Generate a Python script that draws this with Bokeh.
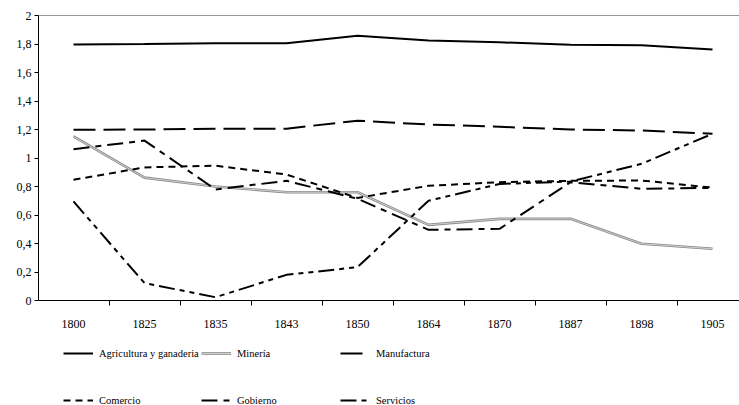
from bokeh.plotting import figure
from bokeh.layouts import column
from bokeh.models import Range1d, FixedTicker, Span, Legend, LegendItem
from bokeh.embed import file_html
from bokeh.resources import INLINE

years = ["1800", "1825", "1835", "1843", "1850", "1864", "1870", "1887", "1898", "1905"]
agricultura = [1.796, 1.80, 1.805, 1.805, 1.858, 1.825, 1.812, 1.794, 1.792, 1.762]
mineria = [1.151, 0.862, 0.800, 0.760, 0.760, 0.531, 0.573, 0.573, 0.398, 0.363]
manufactura = [1.198, 1.200, 1.205, 1.206, 1.262, 1.235, 1.219, 1.200, 1.193, 1.170]
comercio = [0.847, 0.934, 0.946, 0.884, 0.720, 0.805, 0.830, 0.840, 0.842, 0.792]
gobierno = [1.062, 1.122, 0.779, 0.840, 0.714, 0.496, 0.503, 0.830, 0.784, 0.790]
servicios = [0.695, 0.122, 0.023, 0.180, 0.234, 0.700, 0.818, 0.835, 0.959, 1.170]
y_ticks = [0, 0.2, 0.4, 0.6, 0.8, 1.0, 1.2, 1.4, 1.6, 1.8, 2.0]
series_names = ["Agricultura y ganaderia", "Minería", "Manufactura",
                "Comercio", "Gobierno", "Servicios"]

FONT = "Liberation Serif"
FS = "12px"
LFS = "10.5px"

xs = list(range(len(years)))

p = figure(width=739, height=330, output_backend="svg", toolbar_location=None,
           x_range=Range1d(-0.493, 9.38), y_range=Range1d(0, 2),
           min_border_left=38, min_border_top=15, min_border_right=0, min_border_bottom=30)
p.outline_line_color = None
p.xgrid.visible = False
p.ygrid.visible = False

# x axis
p.xaxis.ticker = FixedTicker(ticks=xs, minor_ticks=[i + 0.5 for i in xs[:-1]])
p.xaxis.major_label_overrides = {i: y for i, y in enumerate(years)}
p.xaxis.major_tick_in = 0
p.xaxis.major_tick_out = 0
p.xaxis.minor_tick_in = 0
p.xaxis.minor_tick_out = 5
p.xaxis.minor_tick_line_color = "black"
p.xaxis.major_label_standoff = 14
p.xaxis.axis_line_color = "black"

# y axis
p.yaxis.ticker = FixedTicker(ticks=y_ticks, minor_ticks=[])
p.yaxis.major_label_overrides = {t: (("%g" % t).replace(".", ",")) for t in y_ticks}
p.yaxis.major_tick_in = 0
p.yaxis.major_tick_out = 4
p.yaxis.minor_tick_out = 0
p.yaxis.major_label_standoff = 3
p.yaxis.axis_line_color = "black"

for ax in (p.xaxis, p.yaxis):
    ax.major_label_text_font = FONT
    ax.major_label_text_font_size = FS
    ax.major_label_text_color = "black"

p.add_layout(Span(location=2, dimension="width", line_color="#333333", line_width=1))

W = 2
styles = [
    [dict(line_color="black", line_width=W)],
    [dict(line_color="#8a8a8a", line_width=2.6), dict(line_color="#d0d0d0", line_width=1)],
    [dict(line_color="black", line_width=W, line_dash="22 8")],
    [dict(line_color="black", line_width=W, line_dash="7 5")],
    [dict(line_color="black", line_width=W, line_dash="16 6 6 6")],
    [dict(line_color="black", line_width=W, line_dash="16 5 5 5 5 5")],
]
data = [agricultura, mineria, manufactura, comercio, gobierno, servicios]
for ys, st in zip(data, styles):
    for s in st:
        p.line(xs, ys, **s)

# legend panel (second figure below the chart)
lg = figure(width=739, height=75, output_backend="svg", toolbar_location=None,
            x_axis_type=None, y_axis_type=None,
            min_border_left=0, min_border_right=0, min_border_top=0, min_border_bottom=0)
lg.outline_line_color = None
lg.xgrid.visible = False
lg.ygrid.visible = False

legend_rend = []
for ys, st in zip(data, styles):
    legend_rend.append([lg.line(xs, ys, visible=False, **s) for s in st])

col_x = [25, 163, 302]
for c in range(3):
    items = [LegendItem(label=series_names[c + 3 * r], renderers=legend_rend[c + 3 * r])
             for r in range(2)]
    leg = Legend(items=items, location=(col_x[c], -2), orientation="vertical",
                 padding=0, margin=0, spacing=33,
                 glyph_width=30, glyph_height=14, label_height=14,
                 label_standoff=6, border_line_color=None,
                 background_fill_alpha=0, inactive_fill_alpha=0,
                 label_text_font=FONT, label_text_font_size=LFS,
                 label_text_color="black")
    lg.add_layout(leg, "center")

layout = column(p, lg, spacing=0)
open("out.html", "w").write(file_html(layout, INLINE))
